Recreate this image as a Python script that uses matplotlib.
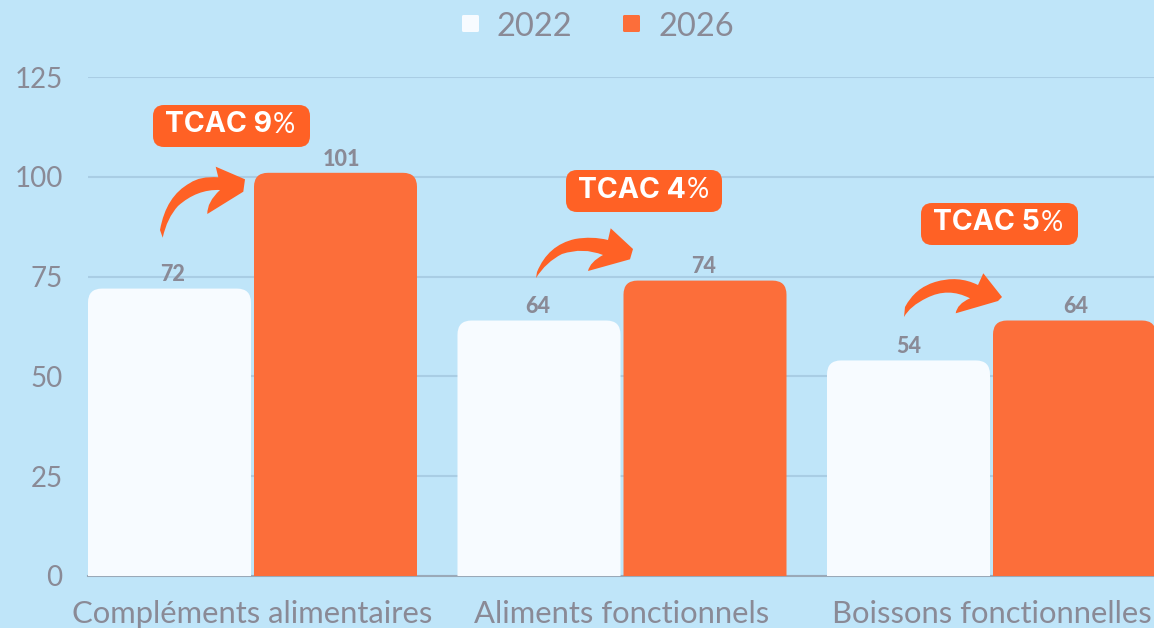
import matplotlib
matplotlib.use("Agg")
import matplotlib.pyplot as plt
from matplotlib.patches import FancyBboxPatch, PathPatch
from matplotlib.path import Path
from matplotlib.transforms import Affine2D

categories = ["Compléments alimentaires", "Aliments fonctionnels", "Boissons fonctionnelles"]
values_2022 = [72, 64, 54]
values_2026 = [101, 74, 64]
cagr_labels = ["TCAC 9", "TCAC 4", "TCAC 5"]
y_ticks = [0, 25, 50, 75, 100, 125]

W, H = 1154, 628
BG, WHITE, ORANGE, CALL = "#BFE5F9", "#F7FBFF", "#FC6E3A", "#FF6125"
GREY, GRID, BASE = "#8A8A96", "#A9CDE4", "#9AA9B8"
FONT = "Lato"

fig = plt.figure(figsize=(W / 100, H / 100), dpi=100, facecolor=BG)
ax = fig.add_axes([88 / W, (H - 576) / H, (W - 88) / W, 499 / H], facecolor=BG)
spacing = 369.5
ax.set_xlim((88 - 252.5) / spacing, (W - 252.5) / spacing)
ax.set_ylim(0, 125)
for s in ax.spines.values():
    s.set_visible(False)
px = Affine2D().scale(1 / W, -1 / H).translate(0, 1) + fig.transFigure

ax.set_yticks(y_ticks)
ax.set_yticklabels([str(t) for t in y_ticks], fontsize=20, color=GREY, family=FONT)
ax.tick_params(axis="y", length=0, pad=18.3)
ax.yaxis.grid(True, color=GRID, lw=1.5)
ax.set_axisbelow(True)
ax.set_xticks(range(3))
ax.set_xticklabels(categories, fontsize=22.3, color=GREY, family=FONT)
ax.tick_params(axis="x", length=0, pad=17.5)
ax.axhline(0, color=BASE, lw=1.5, clip_on=False, zorder=1.5)

width = 163 / spacing
off = 83 / spacing
xu = 1 / spacing           # data x per pixel
yu = 125 / 499             # data y per pixel
radius = 14 * xu
label_nudge = {"2022": [3.5, -1, 0.5], "2026": [5.5, -1.5, 1.5]}
series = [("2022", values_2022, -off, WHITE), ("2026", values_2026, off, ORANGE)]
for name, vals, dx, col in series:
    bars = ax.bar([i + dx for i in range(3)], vals, width, color=col, label=name)
    for b, v, n in zip(bars, vals, label_nudge[name]):
        b.set_visible(False)
        p = FancyBboxPatch((b.get_x(), -10), b.get_width(), v + 10,
                           boxstyle=f"round,pad=0,rounding_size={radius}",
                           mutation_aspect=yu / xu, fc=col, ec="none", zorder=2)
        ax.add_patch(p)
        ax.text(b.get_x() + b.get_width() / 2 + n * xu, v + 0.8, str(v), ha="center", va="bottom",
                fontsize=15.5, fontweight="black", color=GREY, family=FONT, zorder=3)

# legend
for x, label, col, tx in [(470.5, "2022", WHITE, 497), (631.5, "2026", ORANGE, 658)]:
    fig.add_artist(FancyBboxPatch((x - 8.5, 15), 17, 17, boxstyle="round,pad=0,rounding_size=1.5",
                                  fc=col, ec="none", transform=px))
    fig.text(tx / W, 1 - 26.5 / H, label, fontsize=23.5, color=GREY, family=FONT, va="center", ha="left")

# callouts
for (x0, y0, x1, y1), lab in zip([(153, 105, 310, 147), (566, 170, 722, 212), (921, 203, 1078, 245)], cagr_labels):
    fig.add_artist(FancyBboxPatch((x0, y0), x1 - x0, y1 - y0, boxstyle="round,pad=0,rounding_size=11",
                                  fc=CALL, ec="none", transform=px))
    t = fig.text((x0 + 12) / W, 1 - ((y0 + y1) / 2 - 1) / H, lab, fontsize=20.5, fontweight="bold",
                 color="white", family="Inter", va="center", ha="left")
    fig.canvas.draw()
    bb = t.get_window_extent()
    fig.text((bb.x1 + 1) / W, 1 - ((y0 + y1) / 2 - 1) / H, "%", fontsize=20, color="white",
             family=FONT, va="center", ha="left")

# curved arrows (pixel outlines)
M, C3, L = Path.MOVETO, Path.CURVE3, Path.LINETO
arrow1 = [(162.7, 237.7, M), (160, 230, L), (166, 196, C3), (190, 183, C3), (200, 176, C3), (218.3, 177.3, C3),
          (215.7, 166.7, L), (245, 179.3, L), (243.3, 191.7, L), (207.3, 214, L), (207, 202, C3), (220, 190, C3),
          (197, 189, C3), (178, 206, C3), (167, 218, C3), (162.7, 237.7, C3)]
arrow2 = [(536, 278, M), (537, 272, L), (548, 245, C3), (575, 239, C3), (592, 236, C3), (608, 240, C3),
          (610.7, 228.3, L), (633, 249, L), (630, 259.3, L), (588, 271, L), (590, 262, C3), (603, 255, C3),
          (583, 247, C3), (562, 254, C3), (546, 262, C3), (536, 278, C3)]
arrow3 = [(904, 317, M), (905, 307, L), (915, 288, C3), (935, 282, C3), (958, 275, C3), (978, 285, C3),
          (983.3, 273.3, L), (1002, 297, L), (998, 301, L), (955.7, 313.3, L), (957, 304, C3), (970, 298.3, C3),
          (948, 287, C3), (926.7, 298, C3), (910, 306, C3), (904, 317, C3)]
for a in (arrow1, arrow2, arrow3):
    fig.add_artist(PathPatch(Path([(p[0], p[1]) for p in a], [p[2] for p in a]), fc=CALL, ec="none", transform=px))

fig.savefig("out.png", dpi=100, facecolor=BG)
